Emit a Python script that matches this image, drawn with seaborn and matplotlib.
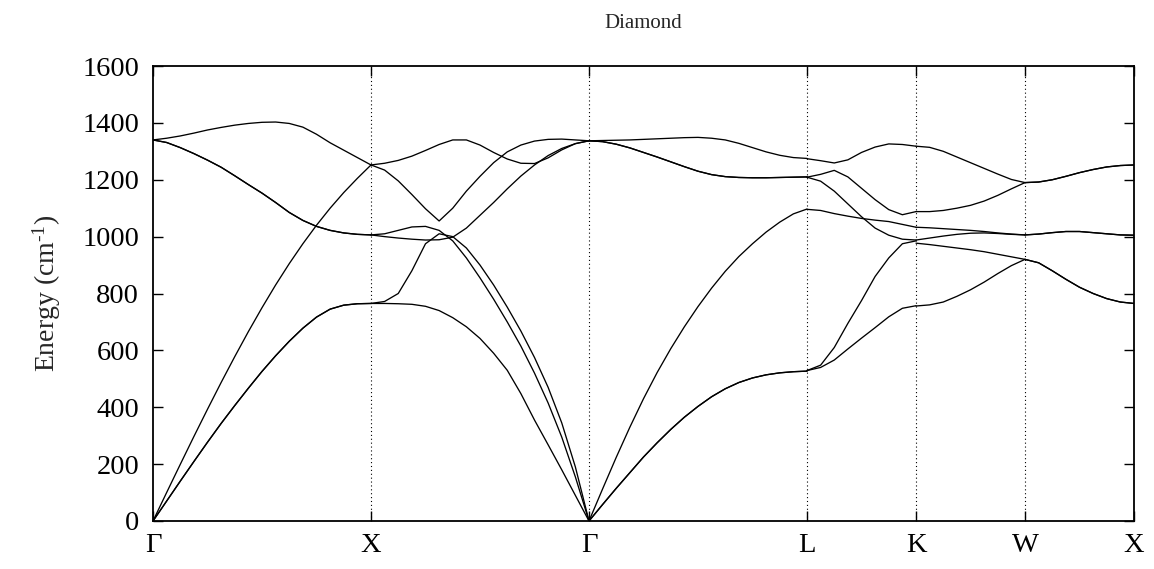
import numpy as np
import pandas as pd
import matplotlib
matplotlib.use("Agg")
import matplotlib.pyplot as plt
import seaborn as sns

# High-symmetry path and positions along the k-path
labels = ["Γ", "X", "Γ", "L", "K", "W", "X"]
kpos = [0.0, 1.0, 2.0, 3.0, 3.5, 4.0, 4.5]

# Phonon branches (cm^-1), sampled on a uniform grid within each segment
# Γ -> X (17 samples)
gx_lo = [1340, 1346, 1354, 1364, 1375, 1384, 1392, 1398, 1402, 1403, 1398, 1385, 1360, 1330, 1304, 1278, 1252]
gx_to = [1340, 1331, 1313, 1292, 1269, 1244, 1214, 1183, 1153, 1120, 1085, 1057, 1036, 1022, 1013, 1008, 1006]
gx_la = [0, 100, 199, 297, 393, 487, 578, 666, 750, 830, 905, 975, 1040, 1100, 1155, 1205, 1252]
gx_ta = [0, 70, 140, 209, 277, 343, 406, 467, 526, 581, 632, 678, 717, 745, 759, 764, 765]

# X -> Γ (17 samples)
xg_o1 = [1252, 1258, 1268, 1283, 1303, 1324, 1340, 1340, 1322, 1296, 1273, 1258, 1257, 1277, 1305, 1327, 1337]
xg_o2 = [1252, 1234, 1196, 1148, 1098, 1055, 1100, 1160, 1212, 1260, 1298, 1322, 1336, 1342, 1343, 1340, 1337]
xg_o3 = [1006, 1000, 995, 991, 988, 989, 998, 1030, 1075, 1120, 1168, 1213, 1252, 1285, 1310, 1327, 1337]
xg_a1 = [1006, 1010, 1022, 1034, 1036, 1022, 985, 925, 855, 780, 700, 615, 520, 415, 295, 155, 0]
xg_a2 = [765, 772, 800, 880, 975, 1010, 1000, 960, 900, 830, 752, 668, 575, 470, 345, 190, 0]
xg_a3 = [765, 765, 764, 762, 755, 740, 715, 683, 642, 590, 530, 448, 355, 268, 180, 90, 0]

# Γ -> L (17 samples)
gl_lo = [1337, 1338, 1339, 1340, 1342, 1344, 1346, 1348, 1349, 1346, 1340, 1328, 1313, 1298, 1286, 1278, 1275]
gl_to = [1337, 1334, 1325, 1312, 1296, 1280, 1263, 1246, 1230, 1218, 1211, 1208, 1207, 1207, 1208, 1209, 1210]
gl_la = [0, 113, 224, 330, 430, 522, 606, 683, 754, 819, 878, 930, 975, 1016, 1051, 1080, 1097]
gl_ta = [0, 58, 115, 170, 225, 275, 322, 365, 403, 437, 465, 487, 503, 514, 521, 525, 527]

# L -> K (9 samples)
lk_1 = [1274, 1267, 1259, 1270, 1296, 1315, 1326, 1324, 1318]
lk_2 = [1209, 1219, 1233, 1210, 1170, 1130, 1095, 1077, 1088]
lk_3 = [1209, 1195, 1160, 1115, 1070, 1030, 1005, 991, 988]
lk_4 = [1096, 1092, 1081, 1072, 1064, 1058, 1053, 1043, 1033]
lk_5 = [529, 548, 610, 695, 775, 860, 925, 975, 985]
lk_6 = [529, 540, 566, 605, 643, 680, 718, 748, 757]

# K -> W (9 samples)
kw_1 = [1318, 1314, 1300, 1280, 1260, 1240, 1220, 1201, 1190]
kw_2 = [1088, 1088, 1092, 1100, 1110, 1125, 1145, 1168, 1190]
kw_3 = [1033, 1031, 1028, 1025, 1022, 1018, 1013, 1009, 1006]
kw_4 = [988, 995, 1002, 1008, 1012, 1013, 1011, 1008, 1006]
kw_5 = [977, 972, 966, 960, 954, 947, 938, 929, 920]
kw_6 = [756, 760, 770, 790, 813, 840, 870, 898, 920]

# W -> X (9 samples, branches pairwise degenerate)
wx_hi = [1190, 1192, 1200, 1212, 1225, 1236, 1245, 1250, 1252]
wx_mid = [1006, 1009, 1014, 1018, 1018, 1014, 1010, 1006, 1005]
wx_lo = [920, 908, 880, 850, 822, 800, 782, 770, 765]

segments = [
    (0, [gx_lo, gx_la, gx_to, gx_to, gx_ta, gx_ta]),
    (1, [xg_o1, xg_o2, xg_o3, xg_a1, xg_a2, xg_a3]),
    (2, [gl_lo, gl_to, gl_to, gl_la, gl_ta, gl_ta]),
    (3, [lk_1, lk_2, lk_3, lk_4, lk_5, lk_6]),
    (4, [kw_1, kw_2, kw_3, kw_4, kw_5, kw_6]),
    (5, [wx_hi, wx_hi, wx_mid, wx_mid, wx_lo, wx_lo]),
]

rows = []
for seg, branches in segments:
    k0, k1 = kpos[seg], kpos[seg + 1]
    for b, vals in enumerate(branches):
        ks = np.linspace(k0, k1, len(vals))
        for k, e in zip(ks, vals):
            rows.append({"k": k, "energy": e, "branch": f"{seg}-{b}"})
df = pd.DataFrame(rows)

sns.set_theme(style="ticks")
plt.rcParams["font.family"] = ["Liberation Serif", "DejaVu Serif"]
plt.rcParams["mathtext.fontset"] = "custom"
plt.rcParams["mathtext.rm"] = "Liberation Serif"
plt.rcParams["mathtext.it"] = "Liberation Serif:italic"

fig = plt.figure(figsize=(11.54, 5.69), dpi=100)
ax = fig.add_axes([153 / 1154, 1 - 521 / 569, (1134 - 153) / 1154, (521 - 66) / 569])

sns.lineplot(data=df, x="k", y="energy", units="branch", estimator=None,
             color="black", lw=0.95, sort=False, ax=ax, legend=False)

for k in kpos[1:-1]:
    ax.axvline(k, color="black", ls=(0, (1, 2.5)), lw=0.8, zorder=0)

ax.set_xlim(kpos[0], kpos[-1])
ax.set_ylim(0, 1600)
ax.set_xticks(kpos)
ax.set_xticklabels(labels)
ax.set_yticks(np.arange(0, 1601, 200))
ax.set_xlabel("")
ax.set_ylabel(r"Energy (cm$^{\text{-1}}$)", fontsize=20, labelpad=14)
ax.tick_params(axis="both", which="major", direction="in", length=7, width=1.0,
               top=True, right=True, labelsize=20.5, color="black", labelcolor="black")
ax.tick_params(axis="y", pad=10)
ax.tick_params(axis="x", pad=9)
for s in ax.spines.values():
    s.set_linewidth(1.3)
    s.set_color("black")
    s.set_visible(True)

fig.text((153 + 1134) / 2 / 1154, 1 - 24 / 569, "Diamond", ha="center", va="center", fontsize=15)

fig.savefig("out.png", dpi=100, facecolor="white")
